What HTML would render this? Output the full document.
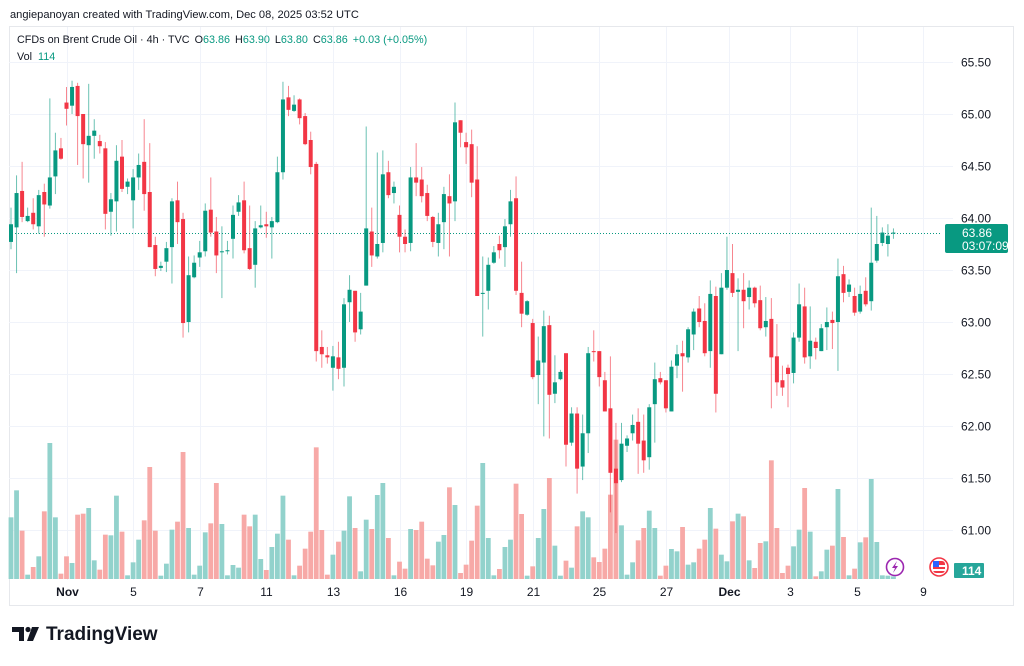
<!DOCTYPE html>
<html><head><meta charset="utf-8">
<style>
html,body{margin:0;padding:0;background:#fff;}
body{width:1024px;height:661px;overflow:hidden;font-family:"Liberation Sans",sans-serif;}
svg text{font-family:"Liberation Sans",sans-serif;}
</style></head>
<body>
<svg id="chart" width="1024" height="661" viewBox="0 0 1024 661" xmlns="http://www.w3.org/2000/svg">
  <text x="10" y="18" font-size="11.1" fill="#131722">angiepanoyan created with TradingView.com, Dec 08, 2025 03:52 UTC</text>
  <rect x="9.5" y="26.5" width="1004" height="579" fill="#fff" stroke="#e6e8ec"/>
  <g id="grid"></g>
  <g id="vol"></g>
  <line id="lastline" x1="9" x2="940" stroke="#089981" stroke-dasharray="1,2" stroke-width="1"/>
  <g id="candles"></g>
  <g id="yaxis"></g>
  <g id="xaxis"></g>
  <g>
    <text x="17" y="43" font-size="10.8" fill="#131722">CFDs on Brent Crude Oil · 4h · TVC <tspan dx="2">O</tspan><tspan fill="#089981">63.86</tspan><tspan dx="5">H</tspan><tspan fill="#089981">63.90</tspan><tspan dx="5">L</tspan><tspan fill="#089981">63.80</tspan><tspan dx="5">C</tspan><tspan fill="#089981">63.86</tspan><tspan dx="5" fill="#089981">+0.03 (+0.05%)</tspan></text>
    <text x="17" y="60" font-size="10.8" fill="#131722">Vol <tspan dx="3" fill="#089981">114</tspan></text>
  </g>
  <g>
    <rect x="945" y="224" width="63" height="29" rx="2" fill="#089981"/>
    <text x="962" y="237" font-size="12" fill="#fff">63.86</text>
    <text x="962" y="250" font-size="12" fill="#fff">03:07:09</text>
  </g>
  <g>
    <rect x="954" y="563" width="30" height="15" rx="1" fill="#26a69a"/>
    <text x="962" y="575" font-size="12" font-weight="bold" fill="#fff">114</text>
  </g>
  <g>
    <circle cx="895" cy="567" r="8.5" fill="#fff" stroke="#9c27b0" stroke-width="1.6"/>
    <path d="M897 561 L892 568 L895 568 L893 573 L898 566 L895 566 Z" fill="#9c27b0"/>
  </g>
  <g>
    <circle cx="939" cy="567" r="9" fill="#fff" stroke="#f23645" stroke-width="1.6"/>
    <rect x="933" y="561" width="12" height="12" rx="3" fill="#f23645"/>
    <rect x="933" y="565" width="12" height="2" fill="#fff"/>
    <rect x="933" y="569" width="12" height="2" fill="#fff"/>
    <rect x="933" y="561" width="6" height="6" fill="#2962ff"/>
  </g>
  <g>
    <path d="M12 627 H24 V641 H19 V632 H12 Z" fill="#131722"/>
    <circle cx="28" cy="629.5" r="2.6" fill="#131722"/>
    <path d="M32 627 H39 L33 641 H27 Z" fill="#131722"/>
    <text x="46" y="640" font-size="19" font-weight="bold" fill="#131722">TradingView</text>
  </g>
</svg>
<script>
const opens=[63.77,63.91,64.26,63.97,64.05,63.92,64.25,64.12,64.40,64.67,65.11,65.08,65.27,65.00,64.70,64.79,64.74,64.67,64.06,64.16,64.59,64.30,64.17,64.39,64.54,64.25,63.74,63.52,63.58,63.72,64.17,63.99,63.00,63.43,63.62,63.68,64.08,63.87,63.67,63.68,63.80,64.06,64.17,63.71,63.55,63.91,63.94,63.91,63.96,64.44,65.16,65.03,65.14,64.98,64.75,64.52,62.76,62.68,62.56,62.66,62.56,63.19,63.30,62.93,63.35,63.87,63.63,63.76,64.44,64.24,64.03,63.82,63.76,64.39,64.37,64.24,64.01,63.76,63.96,64.21,64.16,64.94,64.73,64.71,64.37,63.27,63.30,63.57,63.75,63.72,63.94,64.19,63.28,63.07,62.99,62.49,62.61,62.97,62.31,62.45,62.70,61.84,62.12,61.61,61.93,62.72,62.72,62.44,62.17,61.59,61.48,61.81,61.93,62.04,61.86,61.70,62.21,62.46,62.44,62.14,62.58,62.70,62.66,62.88,63.13,63.01,62.72,63.25,62.69,63.33,63.47,63.29,63.31,63.24,63.33,63.21,62.95,63.03,62.67,62.44,62.56,62.51,62.85,63.15,62.67,62.81,62.72,62.95,63.02,63.00,63.46,63.29,63.25,63.10,63.30,63.20,63.59,63.76,63.75,63.85];
const highs=[64.10,64.41,64.54,64.10,64.19,64.27,64.33,65.15,64.82,64.77,65.26,65.32,65.30,65.00,65.29,64.95,64.80,64.73,64.24,64.70,64.75,64.38,64.47,64.62,64.95,64.72,63.82,63.58,63.77,64.19,64.35,64.05,63.63,63.64,63.78,64.14,64.39,64.01,63.92,63.78,64.12,64.22,64.35,64.12,63.97,64.12,64.06,64.01,64.59,65.31,65.27,65.18,65.15,65.01,64.83,64.54,62.92,62.76,62.77,62.81,63.23,63.45,63.30,63.28,64.88,64.10,64.63,64.65,64.55,64.35,64.12,63.89,64.49,64.72,64.49,64.32,64.02,64.05,64.30,64.42,65.11,64.94,64.82,64.85,64.69,63.63,63.62,63.73,63.83,63.99,64.27,64.40,63.58,63.21,63.03,62.86,63.11,63.06,62.68,62.54,62.70,62.18,62.18,62.11,62.76,62.92,62.72,62.52,62.67,62.03,62.03,61.91,62.11,62.17,62.11,62.21,62.61,62.52,62.44,62.63,62.78,62.82,62.95,63.13,63.25,63.18,63.40,63.34,63.47,63.82,63.75,63.42,63.47,63.40,63.34,63.35,63.24,63.23,62.98,62.58,62.59,62.90,63.37,63.33,63.15,62.85,62.98,63.14,63.10,63.61,63.54,63.41,63.33,63.35,63.43,64.10,64.02,63.91,63.94,63.90];
const lows=[63.70,63.47,63.96,63.96,63.89,63.85,63.82,64.09,64.23,64.56,64.89,65.00,64.51,64.38,64.34,64.57,64.62,63.89,63.83,63.87,64.25,64.23,63.90,64.27,64.07,63.72,63.44,63.49,63.48,63.37,63.75,62.85,62.90,63.42,63.53,63.63,63.82,63.47,63.23,63.65,63.61,64.02,63.66,63.50,63.33,63.90,63.81,63.61,63.95,64.37,64.98,65.02,64.90,64.70,64.42,62.62,62.56,62.60,62.34,62.45,62.38,63.00,62.81,62.88,63.35,63.53,63.61,63.67,64.19,64.14,63.67,63.67,63.68,64.21,64.15,63.97,63.72,63.63,63.70,63.63,63.97,64.68,64.52,64.20,63.25,62.86,63.12,63.56,63.61,63.53,63.82,63.26,62.95,63.06,62.45,62.21,61.90,61.88,62.22,62.44,61.61,61.81,61.35,61.48,61.74,62.62,62.38,62.14,61.17,60.97,61.46,61.75,61.86,61.54,61.55,61.58,61.84,62.40,62.13,62.14,62.46,62.33,62.61,62.73,62.95,62.67,62.56,62.13,62.69,63.31,63.24,62.72,62.94,63.12,63.14,62.92,62.86,62.17,62.29,62.29,62.18,62.41,62.81,62.60,62.55,62.64,62.72,62.73,62.74,62.53,63.19,63.24,63.06,63.08,63.15,63.11,63.57,63.73,63.63,63.80];
const closes=[63.94,64.24,64.01,64.02,63.94,64.22,64.13,64.39,64.65,64.57,65.05,65.26,64.98,64.71,64.79,64.84,64.69,64.04,64.18,64.55,64.28,64.35,64.39,64.51,64.23,63.72,63.51,63.54,63.71,64.16,63.96,62.99,63.45,63.57,63.67,64.07,63.86,63.64,63.68,63.69,64.03,64.15,63.69,63.51,63.90,63.93,63.92,63.97,64.44,65.14,65.04,65.09,64.96,64.71,64.49,62.72,62.69,62.66,62.67,62.55,63.17,63.31,62.90,63.10,63.90,63.64,63.75,64.42,64.22,64.30,63.82,63.75,64.39,64.34,64.21,64.02,63.77,63.94,64.23,64.14,64.92,64.82,64.68,64.34,63.25,63.28,63.55,63.67,63.69,63.92,64.16,63.30,63.08,63.20,62.47,62.63,62.96,62.30,62.42,62.52,61.82,62.12,61.59,61.93,62.70,62.71,62.47,62.14,61.55,61.45,61.83,61.88,62.01,61.83,61.67,62.18,62.45,62.42,62.17,62.57,62.69,62.67,62.93,63.10,63.00,62.70,63.27,62.31,63.33,63.50,63.28,63.31,63.20,63.33,63.18,62.94,63.01,62.66,62.42,62.37,62.50,62.85,63.17,62.66,62.82,62.75,62.94,63.00,62.99,63.44,63.28,63.36,63.09,63.27,63.17,63.57,63.75,63.86,63.83,63.86];
const volumes=[185,266,145,13,36,68,203,408,185,16,68,48,193,196,213,56,28,133,131,250,142,11,50,118,176,336,145,10,46,148,172,381,153,13,40,140,167,288,165,11,42,34,193,158,193,60,27,96,136,250,118,11,40,91,142,395,147,13,73,112,145,248,153,23,178,150,252,288,123,11,52,31,150,147,172,61,41,112,132,275,222,18,43,115,220,348,123,11,30,96,118,286,195,10,38,123,210,303,100,10,55,34,158,203,185,65,51,91,253,418,161,13,50,116,153,205,153,10,40,90,83,156,43,50,91,118,213,151,73,53,173,196,188,56,33,108,113,356,153,18,40,98,148,273,142,8,23,88,100,270,126,11,31,110,125,300,111,11,10,8];
const priceTicks=[65.5,65.0,64.5,64.0,63.5,63.0,62.5,62.0,61.5,61.0];
const dateLabels=["Nov","5","7","11","13","16","19","21","25","27","Dec","3","5","9"];
const dateIndex=[10.1,22,34,46,58.1,70.1,82,94,106,118,129.4,140.4,152.4,164.3];
const lastPrice=63.86;

const NS="http://www.w3.org/2000/svg";
const X0=11, STEP=5.55, PLOT_L=9, PLOT_R=953, VOL_BASE=579;
function xScale(i){return X0+i*STEP;}
function yScale(p){return 62+(65.5-p)*104;}
function vScale(v){return v/3;}
function mk(tag,attrs,parent){const e=document.createElementNS(NS,tag);for(const k in attrs)e.setAttribute(k,attrs[k]);parent.appendChild(e);return e;}

const grid=document.getElementById('grid');
const yaxis=document.getElementById('yaxis');
priceTicks.forEach(function(p){
  const y=Math.round(yScale(p))+0.5;
  const l=mk('line',{x1:PLOT_L,x2:PLOT_R,y1:y,y2:y,stroke:'#f0f3fa','stroke-width':1},grid);
  
  
  const t=mk('text',{x:961,y:y+4,'font-size':12,fill:'#131722'},yaxis);
  t.textContent=p.toFixed(2);
  
  
});
const xaxis=document.getElementById('xaxis');
dateLabels.forEach(function(lab,k){
  const x=Math.round(xScale(dateIndex[k]))+0.5;
  const l=mk('line',{x1:x,x2:x,y1:27,y2:580,stroke:'#f0f3fa','stroke-width':1},grid);
  
  
  const t=mk('text',{x:x,y:596,'font-size':12,fill:'#131722','text-anchor':'middle','font-weight':lab==='Nov'||lab==='Dec'?'bold':'normal'},xaxis);
  t.textContent=lab;
  
  
});
const ly=Math.round(yScale(lastPrice))+0.5;
const ll=document.getElementById('lastline');ll.setAttribute('y1',ly);ll.setAttribute('y2',ly);

const vol=document.getElementById('vol');
const cg=document.getElementById('candles');
for(let i=0;i<opens.length;i++){
  const up=closes[i]>=opens[i];
  const x=xScale(i);
  const h=vScale(volumes[i]);
  const vb=mk('rect',{x:x-2.4,y:VOL_BASE-h,width:4.8,height:h,fill:up?'#92d2cc':'#f7a9a7'},vol);
  
  
  const col=up?'#089981':'#f23645';
  const wk=mk('line',{x1:x,x2:x,y1:yScale(highs[i]),y2:yScale(lows[i]),stroke:col,'stroke-width':1,opacity:0.6},cg);
  
  
  const top=yScale(Math.max(opens[i],closes[i])), bot=yScale(Math.min(opens[i],closes[i]));
  const bd=mk('rect',{x:x-2,y:top,width:4,height:Math.max(1,bot-top),fill:col},cg);
  
  
}
</script>
</body></html>
